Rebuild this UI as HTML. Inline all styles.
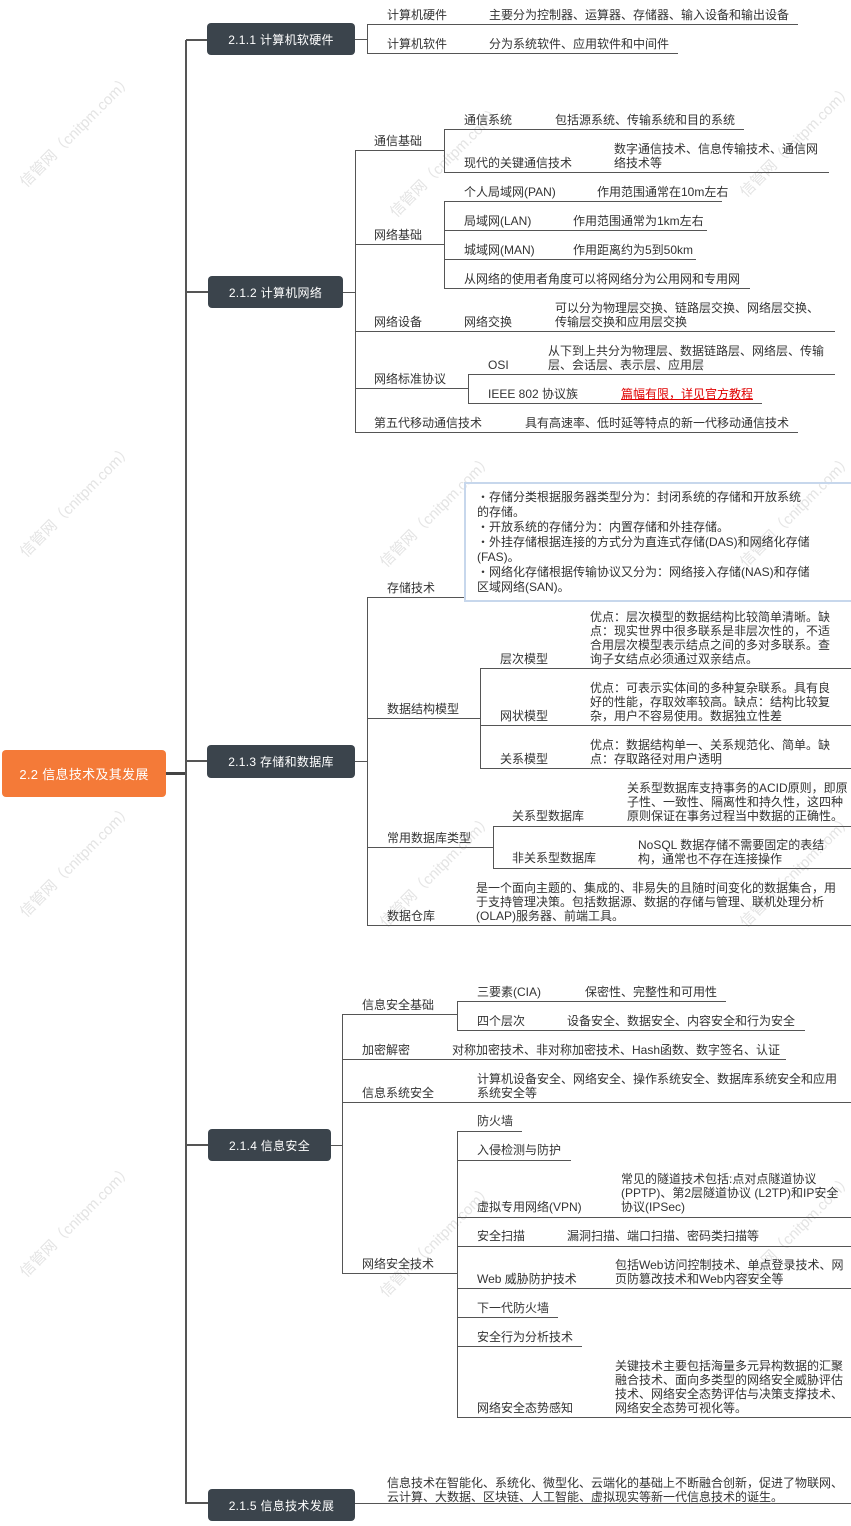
<!DOCTYPE html>
<html><head><meta charset="utf-8"><style>
body{margin:0;background:#fff;width:851px;height:1526px;position:relative;overflow:hidden;font-family:"Liberation Sans","Noto Sans CJK SC",sans-serif}
.t{position:absolute;font-size:12px;line-height:14px;white-space:nowrap;color:#333}
.h{position:absolute;height:0;border-top:1px solid #555}
.v{position:absolute;width:0;border-left:1px solid #555}
.b{position:absolute;background:#3b444c;color:#fff;font-size:12px;border-radius:4px;display:flex;align-items:center;justify-content:center;letter-spacing:.3px}
.w{position:absolute;color:#e4e4e4;font-size:15px;transform:rotate(-45deg);white-space:nowrap}
.red{color:#e00000;text-decoration:underline}
</style></head><body>
<div class="w" style="left:0;top:120px">信管网（cnitpm.com）</div>
<div class="w" style="left:0;top:490px">信管网（cnitpm.com）</div>
<div class="w" style="left:0;top:850px">信管网（cnitpm.com）</div>
<div class="w" style="left:0;top:1210px">信管网（cnitpm.com）</div>
<div class="w" style="left:370px;top:150px">信管网（cnitpm.com）</div>
<div class="w" style="left:360px;top:500px">信管网（cnitpm.com）</div>
<div class="w" style="left:360px;top:860px">信管网（cnitpm.com）</div>
<div class="w" style="left:360px;top:1230px">信管网（cnitpm.com）</div>
<div class="w" style="left:720px;top:130px">信管网（cnitpm.com）</div>
<div class="w" style="left:720px;top:500px">信管网（cnitpm.com）</div>
<div class="w" style="left:720px;top:860px">信管网（cnitpm.com）</div>
<div class="w" style="left:720px;top:1220px">信管网（cnitpm.com）</div>

<!-- root -->
<div class="b" style="left:2px;top:750px;width:164px;height:47px;background:#f47a38;font-size:13px">2.2 信息技术及其发展</div>
<div style="position:absolute;left:166px;top:772px;width:20px;height:3px;background:#444"></div>
<div style="position:absolute;left:185px;top:40px;width:2px;height:1464px;background:#555"></div>
<div style="position:absolute;left:186px;top:39px;width:22px;height:2px;background:#555"></div>
<div style="position:absolute;left:186px;top:291px;width:22px;height:2px;background:#555"></div>
<div style="position:absolute;left:186px;top:760px;width:22px;height:2px;background:#555"></div>
<div style="position:absolute;left:186px;top:1144px;width:22px;height:2px;background:#555"></div>
<div style="position:absolute;left:186px;top:1502px;width:22px;height:2px;background:#555"></div>

<div class="b" style="left:207px;top:23px;width:148px;height:32px">2.1.1 计算机软硬件</div>
<div class="b" style="left:208px;top:276px;width:135px;height:32px">2.1.2 计算机网络</div>
<div class="b" style="left:207px;top:745px;width:148px;height:33px">2.1.3 存储和数据库</div>
<div class="b" style="left:208px;top:1129px;width:123px;height:32px">2.1.4 信息安全</div>
<div class="b" style="left:208px;top:1489px;width:147px;height:32px">2.1.5 信息技术发展</div>

<!-- 2.1.1 -->
<div class="h" style="left:355px;top:39px;width:12px"></div>
<div class="v" style="left:367px;top:24px;height:29px"></div>
<div class="h" style="left:367px;top:24px;width:431px"></div>
<div class="h" style="left:367px;top:53px;width:311px"></div>
<div class="t" style="left:387px;top:8px">计算机硬件</div>
<div class="t" style="left:489px;top:8px">主要分为控制器、运算器、存储器、输入设备和输出设备</div>
<div class="t" style="left:387px;top:37px">计算机软件</div>
<div class="t" style="left:489px;top:37px">分为系统软件、应用软件和中间件</div>

<!-- 2.1.2 -->
<div class="h" style="left:343px;top:292px;width:12px"></div>
<div class="v" style="left:355px;top:150px;height:282px"></div>
<div class="h" style="left:355px;top:150px;width:89px"></div>
<div class="t" style="left:374px;top:134px">通信基础</div>
<div class="v" style="left:444px;top:129px;height:43px"></div>
<div class="h" style="left:444px;top:129px;width:300px"></div>
<div class="h" style="left:444px;top:172px;width:385px"></div>
<div class="t" style="left:464px;top:113px">通信系统</div>
<div class="t" style="left:555px;top:113px">包括源系统、传输系统和目的系统</div>
<div class="t" style="left:464px;top:156px">现代的关键通信技术</div>
<div class="t" style="left:614px;top:142px">数字通信技术、信息传输技术、通信网<br>络技术等</div>

<div class="h" style="left:355px;top:244px;width:89px"></div>
<div class="t" style="left:374px;top:228px">网络基础</div>
<div class="v" style="left:444px;top:201px;height:87px"></div>
<div class="h" style="left:444px;top:201px;width:278px"></div>
<div class="h" style="left:444px;top:230px;width:263px"></div>
<div class="h" style="left:444px;top:259px;width:252px"></div>
<div class="h" style="left:444px;top:288px;width:306px"></div>
<div class="t" style="left:464px;top:185px">个人局域网(PAN)</div>
<div class="t" style="left:597px;top:185px">作用范围通常在10m左右</div>
<div class="t" style="left:464px;top:214px">局域网(LAN)</div>
<div class="t" style="left:573px;top:214px">作用范围通常为1km左右</div>
<div class="t" style="left:464px;top:243px">城域网(MAN)</div>
<div class="t" style="left:573px;top:243px">作用距离约为5到50km</div>
<div class="t" style="left:464px;top:272px">从网络的使用者角度可以将网络分为公用网和专用网</div>

<div class="h" style="left:355px;top:331px;width:480px"></div>
<div class="t" style="left:374px;top:315px">网络设备</div>
<div class="t" style="left:464px;top:315px">网络交换</div>
<div class="t" style="left:555px;top:301px">可以分为物理层交换、链路层交换、网络层交换、<br>传输层交换和应用层交换</div>

<div class="h" style="left:355px;top:388px;width:113px"></div>
<div class="t" style="left:374px;top:372px">网络标准协议</div>
<div class="v" style="left:468px;top:374px;height:29px"></div>
<div class="h" style="left:468px;top:374px;width:367px"></div>
<div class="h" style="left:468px;top:403px;width:294px"></div>
<div class="t" style="left:488px;top:358px">OSI</div>
<div class="t" style="left:548px;top:344px">从下到上共分为物理层、数据链路层、网络层、传输<br>层、会话层、表示层、应用层</div>
<div class="t" style="left:488px;top:387px">IEEE 802 协议族</div>
<div class="t red" style="left:621px;top:387px">篇幅有限，详见官方教程</div>

<div class="h" style="left:355px;top:432px;width:443px"></div>
<div class="t" style="left:374px;top:416px">第五代移动通信技术</div>
<div class="t" style="left:525px;top:416px">具有高速率、低时延等特点的新一代移动通信技术</div>

<!-- 2.1.3 -->
<div class="h" style="left:355px;top:761px;width:12px"></div>
<div class="v" style="left:367px;top:597px;height:328px"></div>
<div class="h" style="left:367px;top:597px;width:97px"></div>
<div class="t" style="left:387px;top:581px">存储技术</div>
<div style="position:absolute;left:464px;top:482px;width:390px;height:116px;border:2px solid #c7d7ec;border-right:none"></div>
<div class="t" style="left:477px;top:490px;line-height:15px">・存储分类根据服务器类型分为：封闭系统的存储和开放系统<br>的存储。<br>・开放系统的存储分为：内置存储和外挂存储。<br>・外挂存储根据连接的方式分为直连式存储(DAS)和网络化存储<br>(FAS)。<br>・网络化存储根据传输协议又分为：网络接入存储(NAS)和存储<br>区域网络(SAN)。</div>

<div class="h" style="left:367px;top:718px;width:113px"></div>
<div class="t" style="left:387px;top:702px">数据结构模型</div>
<div class="v" style="left:480px;top:668px;height:100px"></div>
<div class="h" style="left:480px;top:668px;width:371px"></div>
<div class="h" style="left:480px;top:725px;width:371px"></div>
<div class="h" style="left:480px;top:768px;width:371px"></div>
<div class="t" style="left:500px;top:652px">层次模型</div>
<div class="t" style="left:590px;top:610px">优点：层次模型的数据结构比较简单清晰。缺<br>点：现实世界中很多联系是非层次性的，不适<br>合用层次模型表示结点之间的多对多联系。查<br>询子女结点必须通过双亲结点。</div>
<div class="t" style="left:500px;top:709px">网状模型</div>
<div class="t" style="left:590px;top:681px">优点：可表示实体间的多种复杂联系。具有良<br>好的性能，存取效率较高。缺点：结构比较复<br>杂，用户不容易使用。数据独立性差</div>
<div class="t" style="left:500px;top:752px">关系模型</div>
<div class="t" style="left:590px;top:738px">优点：数据结构单一、关系规范化、简单。缺<br>点：存取路径对用户透明</div>

<div class="h" style="left:367px;top:847px;width:126px"></div>
<div class="t" style="left:387px;top:831px">常用数据库类型</div>
<div class="v" style="left:493px;top:826px;height:42px"></div>
<div class="h" style="left:493px;top:826px;width:358px"></div>
<div class="h" style="left:493px;top:868px;width:358px"></div>
<div class="t" style="left:512px;top:809px">关系型数据库</div>
<div class="t" style="left:627px;top:781px">关系型数据库支持事务的ACID原则，即原<br>子性、一致性、隔离性和持久性，这四种<br>原则保证在事务过程当中数据的正确性。</div>
<div class="t" style="left:512px;top:851px">非关系型数据库</div>
<div class="t" style="left:638px;top:838px">NoSQL 数据存储不需要固定的表结<br>构，通常也不存在连接操作</div>

<div class="h" style="left:367px;top:925px;width:484px"></div>
<div class="t" style="left:387px;top:909px">数据仓库</div>
<div class="t" style="left:476px;top:881px">是一个面向主题的、集成的、非易失的且随时间变化的数据集合，用<br>于支持管理决策。包括数据源、数据的存储与管理、联机处理分析<br>(OLAP)服务器、前端工具。</div>

<!-- 2.1.4 -->
<div class="h" style="left:331px;top:1145px;width:11px"></div>
<div class="v" style="left:342px;top:1014px;height:259px"></div>
<div class="h" style="left:342px;top:1014px;width:115px"></div>
<div class="t" style="left:362px;top:998px">信息安全基础</div>
<div class="v" style="left:457px;top:1001px;height:29px"></div>
<div class="h" style="left:457px;top:1001px;width:269px"></div>
<div class="h" style="left:457px;top:1030px;width:348px"></div>
<div class="t" style="left:477px;top:985px">三要素(CIA)</div>
<div class="t" style="left:585px;top:985px">保密性、完整性和可用性</div>
<div class="t" style="left:477px;top:1014px">四个层次</div>
<div class="t" style="left:567px;top:1014px">设备安全、数据安全、内容安全和行为安全</div>

<div class="h" style="left:342px;top:1059px;width:444px"></div>
<div class="t" style="left:362px;top:1043px">加密解密</div>
<div class="t" style="left:452px;top:1043px">对称加密技术、非对称加密技术、Hash函数、数字签名、认证</div>

<div class="h" style="left:342px;top:1102px;width:509px"></div>
<div class="t" style="left:362px;top:1086px">信息系统安全</div>
<div class="t" style="left:477px;top:1072px">计算机设备安全、网络安全、操作系统安全、数据库系统安全和应用<br>系统安全等</div>

<div class="h" style="left:342px;top:1273px;width:115px"></div>
<div class="t" style="left:362px;top:1257px">网络安全技术</div>
<div class="v" style="left:457px;top:1131px;height:286px"></div>
<div class="h" style="left:457px;top:1131px;width:65px"></div>
<div class="h" style="left:457px;top:1160px;width:114px"></div>
<div class="h" style="left:457px;top:1217px;width:394px"></div>
<div class="h" style="left:457px;top:1246px;width:394px"></div>
<div class="h" style="left:457px;top:1288px;width:394px"></div>
<div class="h" style="left:457px;top:1317px;width:101px"></div>
<div class="h" style="left:457px;top:1346px;width:125px"></div>
<div class="h" style="left:457px;top:1417px;width:394px"></div>
<div class="t" style="left:477px;top:1114px">防火墙</div>
<div class="t" style="left:477px;top:1143px">入侵检测与防护</div>
<div class="t" style="left:477px;top:1200px">虚拟专用网络(VPN)</div>
<div class="t" style="left:621px;top:1172px">常见的隧道技术包括:点对点隧道协议<br>(PPTP)、第2层隧道协议 (L2TP)和IP安全<br>协议(IPSec)</div>
<div class="t" style="left:477px;top:1229px">安全扫描</div>
<div class="t" style="left:567px;top:1229px">漏洞扫描、端口扫描、密码类扫描等</div>
<div class="t" style="left:477px;top:1272px">Web 威胁防护技术</div>
<div class="t" style="left:615px;top:1258px">包括Web访问控制技术、单点登录技术、网<br>页防篡改技术和Web内容安全等</div>
<div class="t" style="left:477px;top:1301px">下一代防火墙</div>
<div class="t" style="left:477px;top:1330px">安全行为分析技术</div>
<div class="t" style="left:477px;top:1401px">网络安全态势感知</div>
<div class="t" style="left:615px;top:1359px">关键技术主要包括海量多元异构数据的汇聚<br>融合技术、面向多类型的网络安全威胁评估<br>技术、网络安全态势评估与决策支撑技术、<br>网络安全态势可视化等。</div>

<!-- 2.1.5 -->
<div class="h" style="left:355px;top:1503px;width:496px"></div>
<div class="t" style="left:387px;top:1476px">信息技术在智能化、系统化、微型化、云端化的基础上不断融合创新，促进了物联网、<br>云计算、大数据、区块链、人工智能、虚拟现实等新一代信息技术的诞生。</div>
</body></html>
